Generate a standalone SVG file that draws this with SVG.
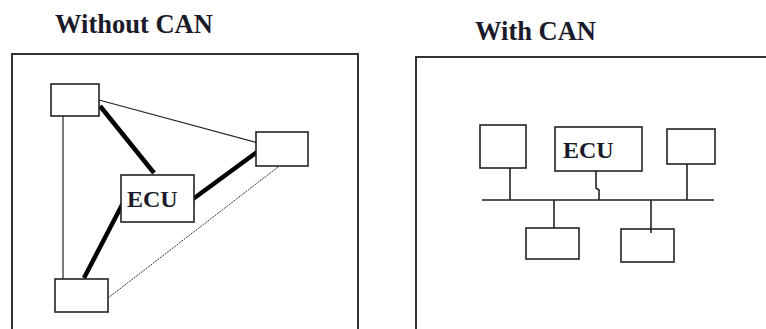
<svg xmlns="http://www.w3.org/2000/svg" width="766" height="329" viewBox="0 0 766 329">
<style>
.title{font-family:"Liberation Serif","Times New Roman",serif;font-weight:bold;font-size:26.5px;fill:#1a1a2a}
.lbl{font-family:"Liberation Serif","Times New Roman",serif;font-weight:bold;font-size:24px;fill:#1a1a2a}
.frame{fill:none;stroke:#333;stroke-width:2}
.box{fill:#fff;stroke:#222;stroke-width:1.6}
.thin{fill:none;stroke:#222;stroke-width:1.2}
.thick{fill:none;stroke:#000;stroke-width:4.5}
.dot{fill:none;stroke:#333;stroke-width:1;stroke-dasharray:2 1}
.bus{fill:none;stroke:#222;stroke-width:1.6}
</style>
<rect width="766" height="329" fill="#fff"/>
<text class="title" x="55" y="33">Without CAN</text>
<text class="title" x="475" y="40">With CAN</text>
<path class="frame" d="M12,330 V54 H358 V330"/>
<path class="frame" d="M416,330 V57 H767"/>
<g id="connectors">
<line class="thin" x1="63" y1="116" x2="63" y2="279"/>
<line class="thin" x1="99" y1="100" x2="258" y2="143"/>
<line class="thick" x1="100" y1="106" x2="154" y2="173"/>
<line class="thick" x1="193" y1="199" x2="257" y2="152"/>
<line class="thick" x1="84" y1="278" x2="123" y2="203"/>
<line class="dot" x1="278" y1="167" x2="108" y2="298"/>
<line class="bus" x1="482" y1="200" x2="714" y2="200"/>
<line class="bus" x1="510" y1="168" x2="510" y2="200"/>
<path class="bus" d="M596,171 V188 L599,190 V200"/>
<line class="bus" x1="687" y1="164" x2="687" y2="200"/>
<line class="bus" x1="554" y1="200" x2="554" y2="228"/>
<line class="bus" x1="651" y1="200" x2="651" y2="233"/>
</g>
<g id="l-tl"><rect class="box" x="51" y="84" width="48" height="32"/></g>
<g id="l-r"><rect class="box" x="256" y="132" width="52" height="34"/></g>
<g id="l-ecu"><rect class="box" x="121" y="175" width="73" height="47"/><text class="lbl" x="127" y="207">ECU</text></g>
<g id="l-bl"><rect class="box" x="55" y="279" width="53" height="33"/></g>
<g id="r-b1"><rect class="box" x="480" y="125" width="46" height="43"/></g>
<g id="r-ecu"><rect class="box" x="555" y="127" width="87" height="44"/><text class="lbl" x="563" y="158">ECU</text></g>
<g id="r-b3"><rect class="box" x="667" y="129" width="48" height="35"/></g>
<g id="r-b4"><rect class="box" x="526" y="228" width="53" height="31"/></g>
<g id="r-b5"><rect class="box" x="621" y="229" width="53" height="33"/></g>
<line class="bus" x1="651" y1="229" x2="651" y2="233"/>
</svg>
